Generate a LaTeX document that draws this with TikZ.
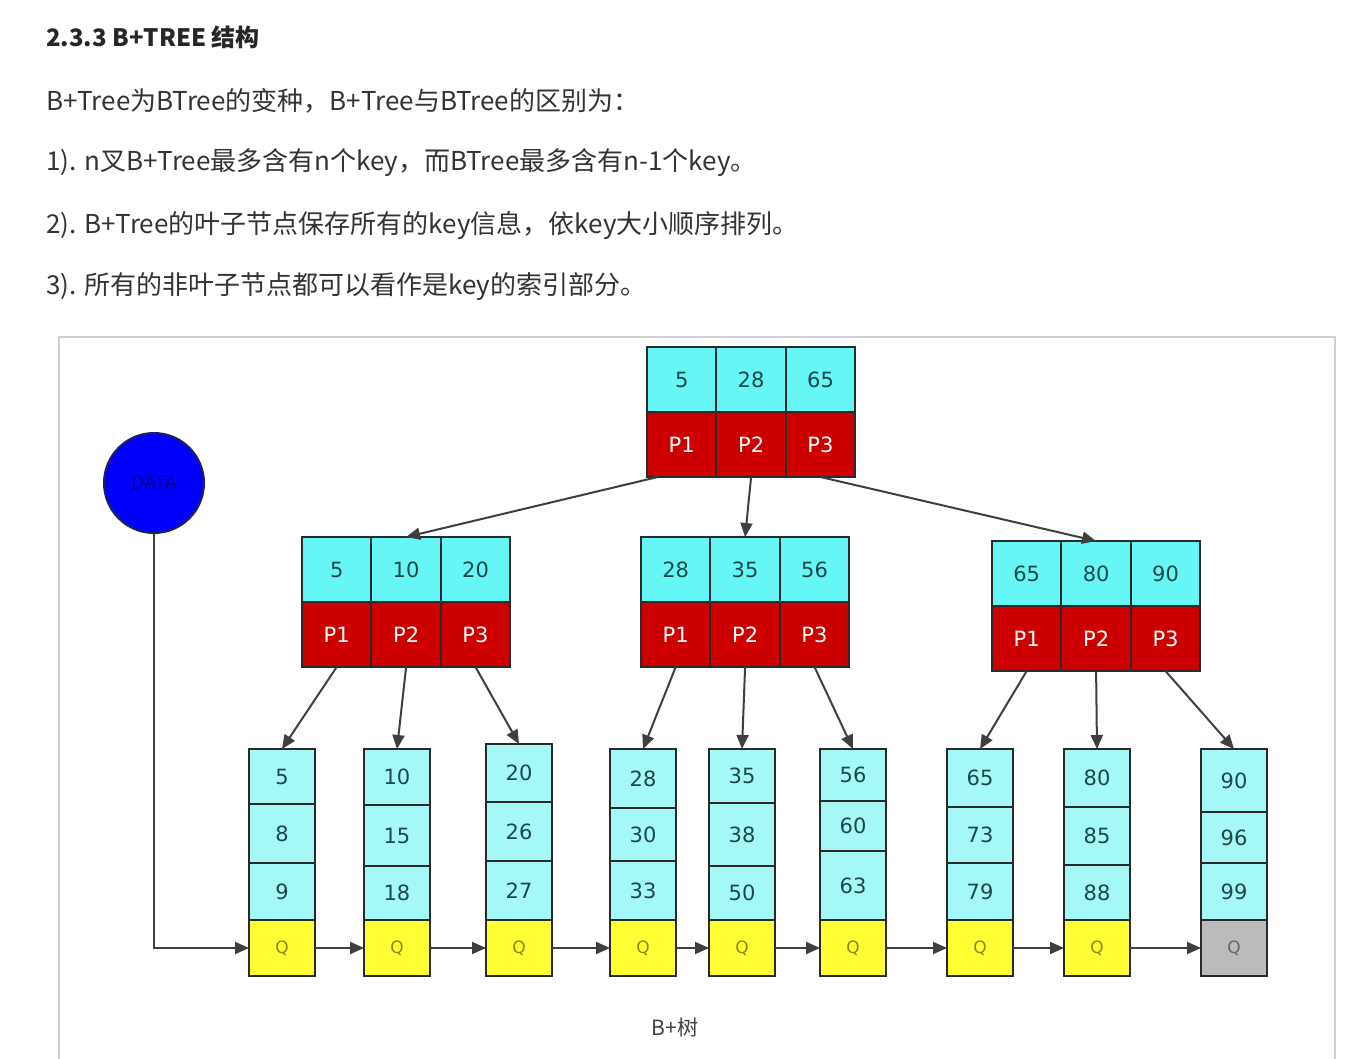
\documentclass[tikz,border=0pt]{standalone}
\usepackage{fontspec}
\setmainfont{Noto Sans CJK SC}
\newfontfamily\cellfont{DejaVu Sans}
\usetikzlibrary{arrows.meta}
\definecolor{icyan}{HTML}{66F6F6}
\definecolor{lcyan}{HTML}{A4F8F8}
\definecolor{pred}{HTML}{CC0000}
\definecolor{qyel}{HTML}{FFFF33}
\definecolor{qgray}{HTML}{BBBBBB}
\definecolor{celltext}{HTML}{1E4848}
\definecolor{bord}{HTML}{2A2A2A}
\definecolor{qtext}{HTML}{8A8A10}
\tikzset{
  base/.style={draw=bord, line width=2pt, inner sep=0pt, outer sep=0pt,
    font=\cellfont\fontsize{21}{23}\selectfont},
  kcell/.style={base, fill=icyan, text=celltext, minimum width=69.4pt, minimum height=65pt},
  pcell/.style={base, fill=pred, text=white, minimum width=69.4pt, minimum height=65pt},
  lcell/.style={base, fill=lcyan, text=celltext, minimum width=66pt},
  qcell/.style={base, fill=qyel, text=qtext, minimum width=66pt, font=\cellfont\fontsize{17}{19}\selectfont},
  qlast/.style={base, fill=qgray, text=gray!80!black, minimum width=66pt, font=\cellfont\fontsize{17}{19}\selectfont},
  arr/.style={draw=bord!90, line width=2pt, -{Triangle[length=14pt,width=12pt]}},
  txt/.style={anchor=west, inner sep=0pt, text=black!80, font=\fontsize{26}{29}\selectfont},
}
% internal node: name, x-left, y-top, key1, key2, key3
\newcommand\inode[6]{%
  \node[kcell, anchor=north west] (#1k1) at (#2,#3) {#4};
  \node[kcell, anchor=west] (#1k2) at (#1k1.east) {#5};
  \node[kcell, anchor=west] (#1k3) at (#1k2.east) {#6};
  \node[pcell, anchor=north] (#1p1) at (#1k1.south) {P1};
  \node[pcell, anchor=north] (#1p2) at (#1k2.south) {P2};
  \node[pcell, anchor=north] (#1p3) at (#1k3.south) {P3};
}
% leaf: name, x, top, d1, d2, qtop, n1, n2, n3
\newcommand\qsty{qcell}
\newcommand\leafnode[9]{%
  \node[lcell, minimum height={#4-#3}, anchor=north west] (#1a) at (#2,#3) {#7};
  \node[lcell, minimum height={#5-#4}, anchor=north west] (#1b) at (#2,#4) {#8};
  \node[lcell, minimum height={#6-#5}, anchor=north west] (#1c) at (#2,#5) {#9};
  \node[\qsty, minimum height={976-#6}, anchor=north west] (#1q) at (#2,#6) {Q};
}
\begin{document}
\begin{tikzpicture}[x=1pt,y=-1pt]
\useasboundingbox[fill=white] (0,0) rectangle (1347,1058);
% texts
\node[txt, font=\bfseries\fontsize{24}{27}\selectfont, text=black!85] (title) at (46,37) {2.3.3 B+TREE 结构};
\node[txt] (l1) at (46,101) {B+Tree为BTree的变种，B+Tree与BTree的区别为：};
\node[txt] (l2) at (46,163) {1). n叉B+Tree最多含有n个key，而BTree最多含有n-1个key。};
\node[txt] (l3) at (46,225) {2). B+Tree的叶子节点保存所有的key信息，依key大小顺序排列。};
\node[txt] (l4) at (46,287) {3). 所有的非叶子节点都可以看作是key的索引部分。};
% frame
\draw[black!18, line width=1.5pt] (59,1070) -- (59,337) -- (1335,337) -- (1335,1070);
% root and internal nodes
\inode{r}{647}{347}{5}{28}{65}
\inode{a}{302}{537}{5}{10}{20}
\inode{b}{641}{537}{28}{35}{56}
\inode{c}{992}{541}{65}{80}{90}
% leaves
\leafnode{la}{249}{749}{804}{863}{920}{5}{8}{9}
\leafnode{lb}{364}{749}{805}{866}{920}{10}{15}{18}
\leafnode{lc}{486}{744}{802}{861}{920}{20}{26}{27}
\leafnode{ld}{610}{749}{808}{861}{920}{28}{30}{33}
\leafnode{le}{709}{749}{803}{866}{920}{35}{38}{50}
\leafnode{lf}{820}{749}{801}{851}{920}{56}{60}{63}
\leafnode{lg}{947}{749}{807}{863}{920}{65}{73}{79}
\leafnode{lh}{1064}{749}{807}{865}{920}{80}{85}{88}
\renewcommand\qsty{qlast}
\leafnode{li}{1201}{749}{812}{863}{920}{90}{96}{99}
% DATA
\node[circle, draw=bord!80!blue, line width=2pt, fill=blue, minimum size=100pt, inner sep=0pt,
  text=blue!55!black, font=\fontsize{19}{21}\selectfont] (data) at (154,483) {DATA};
% arrows root -> internal
\draw[arr] ([xshift=-24pt]rp1.south) -- (ak2.north);
\draw[arr] (rp2.south) -- (bk2.north);
\draw[arr] (rp3.south) -- (ck2.north);
% internal -> leaves
\draw[arr] (ap1.south) -- (laa.north);
\draw[arr] (ap2.south) -- (lba.north);
\draw[arr] (ap3.south) -- (lca.north);
\draw[arr] (bp1.south) -- (lda.north);
\draw[arr] (bp2.south) -- (lea.north);
\draw[arr] (bp3.south) -- (lfa.north);
\draw[arr] (cp1.south) -- (lga.north);
\draw[arr] (cp2.south) -- (lha.north);
\draw[arr] (cp3.south) -- (lia.north);
% leaf chain
\draw[arr] (data.south) |- (laq.west);
\draw[arr] (laq.east) -- (lbq.west);
\draw[arr] (lbq.east) -- (lcq.west);
\draw[arr] (lcq.east) -- (ldq.west);
\draw[arr] (ldq.east) -- (leq.west);
\draw[arr] (leq.east) -- (lfq.west);
\draw[arr] (lfq.east) -- (lgq.west);
\draw[arr] (lgq.east) -- (lhq.west);
\draw[arr] (lhq.east) -- (liq.west);
% caption
\node[inner sep=0pt, text=black!75, font=\fontsize{21}{24}\selectfont] (cap) at (675,1027) {B+树};
\end{tikzpicture}
\end{document}
